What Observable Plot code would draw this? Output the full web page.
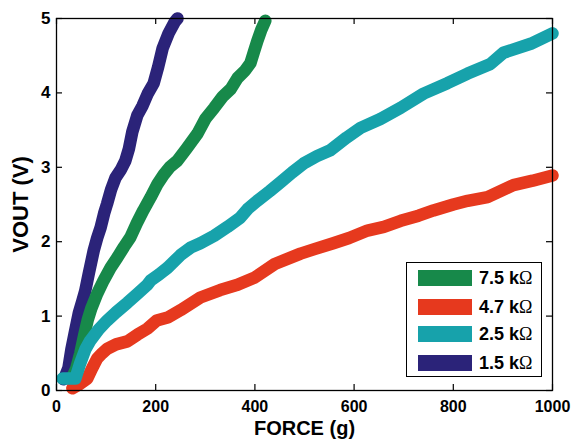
<!DOCTYPE html>
<html><head><meta charset="utf-8">
<script src="https://cdn.jsdelivr.net/npm/d3@7"></script>
<script src="https://cdn.jsdelivr.net/npm/@observablehq/plot@0.6"></script>
<style>
body{margin:0;background:#fff;}
#wrap{position:relative;width:574px;height:441px;}
#legend{position:absolute;left:406px;top:262px;width:134px;height:113px;border:1.5px solid #000;background:#fff;font:bold 18px "Liberation Sans",Arial,sans-serif;color:#000;}
#legend .row{position:absolute;left:11px;height:16px;display:flex;align-items:center;white-space:nowrap;}
#legend .sw{width:54px;height:16px;margin-right:7px;}
#legend .om{font-family:"Liberation Serif","DejaVu Serif",serif;font-weight:normal;}
</style>
</head><body>
<div id="wrap"></div>
<script>
// ---- data ----
const seriesNames = ["7.5 kΩ", "4.7 kΩ", "2.5 kΩ", "1.5 kΩ"];
const seriesColors = ["#17894a", "#e6391e", "#17a2ab", "#2b2379"];
const xTicks = [0, 200, 400, 600, 800, 1000];
const yTicks = [0, 1, 2, 3, 4, 5];

const force15 = [14,18,24,30,36,45,52,58,65,75,82,89,96,102,110,119,130,139,146,153,163,173,184,196,205,214,226,238,244];
const vout15  = [0.15,0.2,0.3,0.55,0.75,1.04,1.2,1.34,1.57,1.88,2.05,2.19,2.38,2.51,2.7,2.86,2.97,3.09,3.25,3.48,3.7,3.82,3.99,4.13,4.35,4.6,4.8,4.95,5.0];

const force75 = [30,40,48,56,63,70,82,95,109,123,136,149,162,175,190,204,216,228,244,262,284,300,318,335,351,365,380,391,398,405,413,421];
const vout75  = [0.15,0.3,0.5,0.75,0.95,1.1,1.3,1.48,1.65,1.79,1.93,2.06,2.25,2.42,2.6,2.78,2.9,3.0,3.09,3.25,3.45,3.65,3.8,3.95,4.05,4.2,4.3,4.4,4.55,4.7,4.85,4.97];

const force25 = [12,38,48,58,68,85,102,120,143,163,183,190,207,224,250,270,290,318,345,370,387,405,430,452,475,498,525,552,585,613,653,694,740,788,829,875,901,956,1000];
const vout25  = [0.16,0.16,0.37,0.55,0.67,0.82,0.94,1.05,1.18,1.3,1.42,1.48,1.56,1.65,1.82,1.92,1.98,2.08,2.2,2.32,2.45,2.55,2.68,2.8,2.93,3.05,3.15,3.23,3.4,3.53,3.65,3.8,3.99,4.13,4.26,4.39,4.54,4.66,4.8];

const force47 = [32,45,62,72,82,92,102,120,143,163,183,202,224,250,290,330,365,400,440,492,520,558,590,627,660,694,730,760,800,829,869,921,960,1000];
const vout47  = [0.03,0.08,0.16,0.3,0.43,0.5,0.56,0.62,0.66,0.75,0.83,0.94,0.98,1.08,1.25,1.35,1.42,1.52,1.7,1.84,1.9,1.98,2.05,2.15,2.2,2.28,2.35,2.42,2.5,2.55,2.6,2.76,2.82,2.89];

const toRows = (fs, vs) => fs.map((f, i) => ({force: f, vout: vs[i]}));
const lines = [
  {rows: toRows(force15, vout15), color: seriesColors[3]},
  {rows: toRows(force75, vout75), color: seriesColors[0]},
  {rows: toRows(force47, vout47), color: seriesColors[1]},
  {rows: toRows(force25, vout25), color: seriesColors[2]}
];

const font = '"Liberation Sans", Arial, sans-serif';
const chart = Plot.plot({
  width: 574, height: 441,
  marginLeft: 56, marginRight: 22, marginTop: 18, marginBottom: 51,
  style: {fontFamily: font, background: "#fff", color: "#000", overflow: "visible"},
  x: {domain: [0, 1000], ticks: xTicks},
  y: {domain: [0, 5], ticks: yTicks},
  marks: [
    ...lines.map(l => Plot.line(l.rows, {x: "force", y: "vout", stroke: l.color, strokeWidth: 12.5, strokeLinejoin: "round", strokeLinecap: "round"})),
    Plot.frame({stroke: "#000", strokeWidth: 1.3}),
    Plot.tickX(xTicks, {x: d => d, insetTop: 366, stroke: "#000", strokeWidth: 1.2}),
    Plot.tickX(xTicks, {x: d => d, insetBottom: 366, stroke: "#000", strokeWidth: 1.2}),
    Plot.tickY(yTicks, {y: d => d, insetRight: 490, stroke: "#000", strokeWidth: 1.2}),
    Plot.tickY(yTicks, {y: d => d, insetLeft: 490, stroke: "#000", strokeWidth: 1.2}),
    Plot.axisX(xTicks, {anchor: "bottom", tickSize: 0, tickPadding: 10, fontSize: 16, fontWeight: "bold", tickFormat: d => String(d), label: "FORCE (g)", labelAnchor: "center", labelArrow: "none", labelOffset: 44}),
    Plot.axisY(yTicks, {anchor: "left", tickSize: 0, tickPadding: 6, fontSize: 17, fontWeight: "bold", tickFormat: d => String(d), label: "VOUT (V)", labelAnchor: "center", labelArrow: "none", labelOffset: 44})
  ]
});
document.getElementById("wrap").appendChild(chart);
d3.select(chart).selectAll("[aria-label='x-axis label'] text")
  .style("font-size", "20px").style("font-weight", "bold");
d3.select(chart).selectAll("[aria-label='y-axis label'] text")
  .style("font-size", "22px").style("font-weight", "bold");

// legend (HTML overlay)
const legend = document.createElement("div");
legend.id = "legend";
const rowTops = [7, 36, 63, 92];
seriesNames.forEach((name, i) => {
  const row = document.createElement("div");
  row.className = "row";
  row.style.top = rowTops[i] + "px";
  const sw = document.createElement("div");
  sw.className = "sw";
  sw.style.background = seriesColors[i];
  row.appendChild(sw);
  const t = document.createElement("span");
  const parts = name.split("Ω");
  t.innerHTML = parts[0] + '<span class="om">Ω</span>';
  row.appendChild(t);
  legend.appendChild(row);
});
document.getElementById("wrap").appendChild(legend);
</script>
</body></html>
